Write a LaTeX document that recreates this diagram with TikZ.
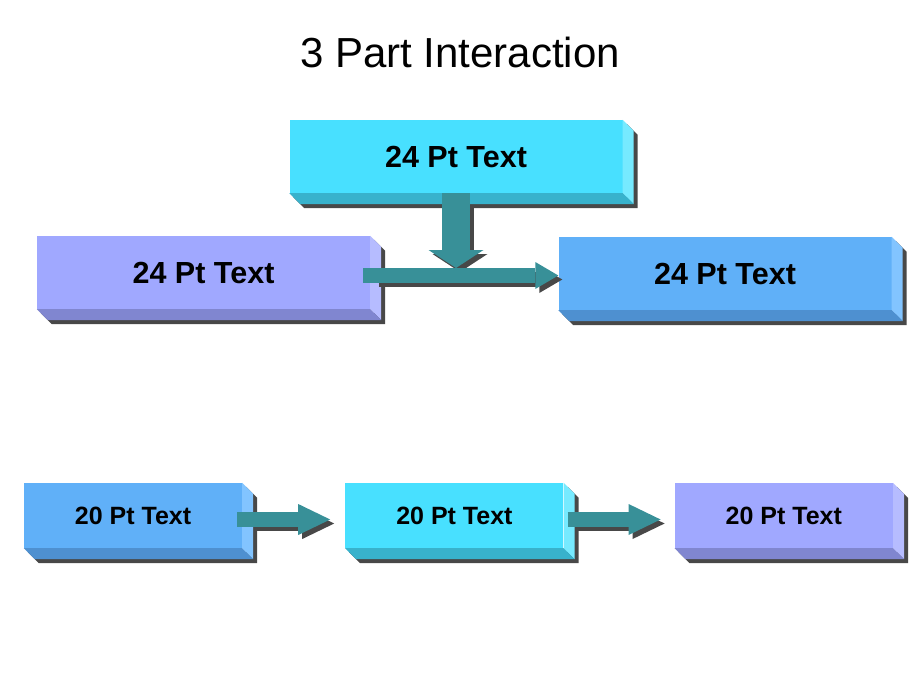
\documentclass[tikz,border=0pt]{standalone}
\usepackage{fontspec}
\setmainfont{Liberation Sans}
\usetikzlibrary{positioning,calc,arrows.meta}

% colours of the slabs (front, side, base)
\definecolor{cyanfront}{RGB}{72,224,255}
\definecolor{cyanside}{RGB}{118,234,255}
\definecolor{cyanbase}{RGB}{56,178,204}
\definecolor{lilacfront}{RGB}{160,168,255}
\definecolor{lilacside}{RGB}{182,188,255}
\definecolor{lilacbase}{RGB}{128,134,208}
\definecolor{skyfront}{RGB}{96,176,248}
\definecolor{skyside}{RGB}{130,196,255}
\definecolor{skybase}{RGB}{78,144,208}
\definecolor{flowteal}{RGB}{56,144,152}
\definecolor{dropgrey}{RGB}{72,72,72}

% extruded edges + drop shadow of a slab node
\newcommand{\slab}[3]{%
  \fill[dropgrey] ($(#1.north east)+(4,4)$) -- ++(11,11) -- ($(#1.south east)+(15,15)$)
    -- ($(#1.south west)+(15,15)$) -- ($(#1.south west)+(4,4)$) -- ($(#1.south east)+(4,4)$) -- cycle;
  \fill[#2] (#1.north east) -- ++(11,11) -- ($(#1.south east)+(11,11)$) -- (#1.south east) -- cycle;
  \fill[#3] (#1.south west) -- (#1.south east) -- ($(#1.south east)+(11,11)$) -- ($(#1.south west)+(11,11)$) -- cycle;
}

\tikzset{
  bigslab/.style={minimum width=333pt, minimum height=73pt, inner sep=0pt,
    font=\fontsize{30.5}{36}\selectfont\bfseries},
  smallslab/.style={minimum width=218pt, minimum height=65pt, inner sep=0pt,
    font=\fontsize{25}{30}\selectfont\bfseries},
}

\begin{document}
\begin{tikzpicture}[x=1pt, y=-1pt]
    \useasboundingbox (0,0) rectangle (920,690);

    % === title ===
    \node[anchor=base, font=\fontsize{42}{48}\selectfont] (title) at (460,68) {3 Part Interaction};

    % === upper three slabs ===
    \node[bigslab, fill=cyanfront] (top) at (456,156.5) {24 Pt Text};
    \node[bigslab, fill=lilacfront] (left) at (203.5,272.5) {24 Pt Text};
    \node[bigslab, fill=skyfront] (right) at (725,273.5) {24 Pt Text};
    \slab{top}{cyanside}{cyanbase}
    \slab{left}{lilacside}{lilacbase}
    \slab{right}{skyside}{skybase}

    % === lower row ===
    \node[smallslab, fill=skyfront] (b1) at (133,515.5) {20 Pt Text};
    \node[smallslab, fill=cyanfront, right=103pt of b1] (b2) {20 Pt Text};
    \node[smallslab, fill=lilacfront, right=111pt of b2] (b3) {20 Pt Text};
    \slab{b1}{skyside}{skybase}
    \slab{b2}{cyanside}{cyanbase}
    \slab{b3}{lilacside}{lilacbase}

    % === fat arrows ===
    \coordinate (vtip) at (456,268);
    % shadows
    \draw[dropgrey, line width=28pt, -{Triangle[length=18pt,width=55pt,line width=0pt]}]
        ($(top.south)+(4,12)$) -- ($(vtip)+(4,4)$);
    \draw[dropgrey, line width=15pt, -{Triangle[length=23pt,width=27pt,line width=0pt]}]
        ($(left.east)+(9,7)$) -- ($(right.west)+(4,6)$);
    \draw[dropgrey, line width=15pt, -{Triangle[length=32pt,width=31pt,line width=0pt]}]
        ($(b1.east)+(12,8)$) -- ($(b2.west)+(-11,8)$);
    \draw[dropgrey, line width=15pt, -{Triangle[length=32pt,width=31pt,line width=0pt]}]
        ($(b2.east)+(12,8)$) -- ($(b3.west)+(-10,8)$);
    % arrows
    \draw[flowteal, line width=28pt, -{Triangle[length=18pt,width=55pt,line width=0pt]}]
        (top.south) -- (vtip);
    \draw[flowteal, line width=15pt, -{Triangle[length=23pt,width=27pt,line width=0pt]}]
        ($(left.east)+(-7,3)$) -- ($(right.west)+(0,2)$);
    \draw[flowteal, line width=15pt, -{Triangle[length=32pt,width=31pt,line width=0pt]}]
        ($(b1.east)+(-5,4)$) -- ($(b2.west)+(-15,4)$);
    \draw[flowteal, line width=15pt, -{Triangle[length=32pt,width=31pt,line width=0pt]}]
        ($(b2.east)+(4,4)$) -- ($(b3.west)+(-14,4)$);

\end{tikzpicture}
\end{document}
